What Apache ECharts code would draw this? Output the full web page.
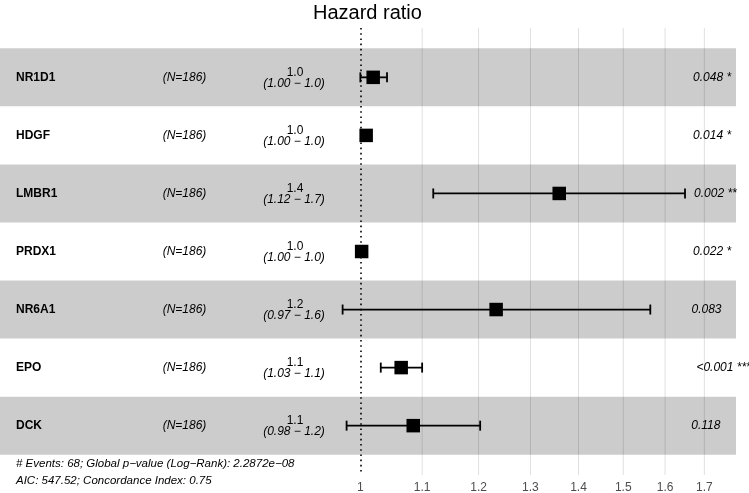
<!DOCTYPE html>
<html>
<head>
<meta charset="utf-8">
<script src="https://cdn.jsdelivr.net/npm/echarts@6/dist/echarts.min.js"></script>
<style>
  html, body { margin: 0; padding: 0; background: #fff; }
  #forest { width: 749px; height: 493px; }
</style>
</head>
<body>
<div id="forest"></div>
<script>
// rows, top to bottom
const genes = ["NR1D1", "HDGF", "LMBR1", "PRDX1", "NR6A1", "EPO", "DCK"];
const nPatients = [186, 186, 186, 186, 186, 186, 186];
const hrLabel = ["1.0", "1.0", "1.4", "1.0", "1.2", "1.1", "1.1"];
const ciLowLabel = ["1.00", "1.00", "1.12", "1.00", "0.97", "1.03", "0.98"];
const ciHighLabel = ["1.0", "1.0", "1.7", "1.0", "1.6", "1.1", "1.2"];
const pLabel = ["0.048 *", "0.014 *", "0.002 **", "0.022 *", "0.083", "<0.001 ***", "0.118"];

// hazard ratio and confidence interval
const hr = [1.020, 1.009, 1.359, 1.002, 1.233, 1.065, 1.085];
const ciLow = [1.000, 1.002, 1.119, 1.000, 0.973, 1.032, 0.979];
const ciHigh = [1.042, 1.016, 1.650, 1.004, 1.564, 1.100, 1.203];

const xTicks = [1, 1.1, 1.2, 1.3, 1.4, 1.5, 1.6, 1.7];

const footer = [
  "# Events: 68; Global p\u2212value (Log\u2212Rank): 2.2872e\u221208",
  "AIC: 547.52; Concordance Index: 0.75"
];

const FONT = '"Liberation Sans", Arial, Helvetica, sans-serif';
const yMin = -0.85, yMax = 6.85;

// measure text like ggplot's hjust = -0.2
const measureCtx = document.createElement("canvas").getContext("2d");
function textWidth(str, font) {
  measureCtx.font = font;
  return measureCtx.measureText(str).width;
}

let chart = echarts.init(document.getElementById("forest"));

let bands = [];
for (let i = 0; i < genes.length; i += 2) {
  bands.push([{ yAxis: i - 0.5 }, { yAxis: i + 0.5 }]);
}

let option = {
  animation: false,
  title: {
    text: "Hazard ratio",
    left: 308,
    top: -2,
    textStyle: { fontFamily: FONT, fontSize: 20, fontWeight: "normal", color: "#000" }
  },
  grid: { left: 0, right: 13, top: 28, bottom: 18 },
  xAxis: {
    type: "log",
    logBase: 10,
    min: 0.5736,
    max: 1.785,
    axisLine: { show: false },
    axisTick: { show: false },
    axisLabel: { show: false },
    splitLine: { show: false }
  },
  yAxis: {
    type: "value",
    inverse: true,
    min: yMin,
    max: yMax,
    axisLine: { show: false },
    axisTick: { show: false },
    axisLabel: { show: false },
    splitLine: { show: false }
  },
  graphic: footer.map(function(t, k) {
    return {
      type: "text",
      x: 16,
      y: 464 + k * 17,
      style: {
        text: t,
        fontFamily: FONT,
        fontSize: 11.5,
        fontStyle: "italic",
        fill: "#000",
        verticalAlign: "middle"
      }
    };
  }),
  series: [
    {
      // grid lines + tick labels
      type: "custom",
      z: 1,
      silent: true,
      clip: false,
      data: xTicks.map(function(v) { return [v, yMax]; }),
      encode: { x: 0, y: 1 },
      renderItem: function(params, api) {
        let v = api.value(0);
        let top = api.coord([v, yMin]);
        let bottom = api.coord([v, yMax]);
        let children = [];
        if (v !== 1) {
          children.push({
            type: "line",
            shape: { x1: top[0], y1: top[1], x2: bottom[0], y2: bottom[1] },
            style: { stroke: "#e0e0e0", lineWidth: 1 }
          });
        }
        children.push({
          type: "text",
          style: {
            text: String(v),
            x: bottom[0],
            y: bottom[1] + 13,
            align: "center",
            verticalAlign: "middle",
            fontFamily: FONT,
            fontSize: 12,
            fill: "#4d4d4d"
          }
        });
        return { type: "group", children: children };
      }
    },
    {
      // shaded rows and the reference line at HR = 1
      type: "line",
      data: [],
      silent: true,
      markArea: {
        silent: true,
        z: 2,
        itemStyle: { color: "rgba(0,0,0,0.2)" },
        data: bands
      },
      markLine: {
        silent: true,
        z: 3,
        symbol: ["none", "none"],
        label: { show: false },
        lineStyle: { color: "#000", width: 1.6, type: [1.6, 3.6] },
        data: [{ xAxis: 1 }]
      }
    },
    {
      // confidence intervals
      type: "custom",
      z: 4,
      silent: true,
      data: genes.map(function(g, i) { return [ciLow[i], ciHigh[i], i]; }),
      encode: { x: [0, 1], y: 2 },
      renderItem: function(params, api) {
        let a = api.coord([api.value(0), api.value(2)]);
        let b = api.coord([api.value(1), api.value(2)]);
        let st = { stroke: "#000", lineWidth: 1.8 };
        return {
          type: "group",
          children: [
            { type: "line", shape: { x1: a[0], y1: a[1], x2: b[0], y2: b[1] }, style: st },
            { type: "line", shape: { x1: a[0], y1: a[1] - 5, x2: a[0], y2: a[1] + 5 }, style: st },
            { type: "line", shape: { x1: b[0], y1: b[1] - 5, x2: b[0], y2: b[1] + 5 }, style: st }
          ]
        };
      }
    },
    {
      // point estimates
      type: "scatter",
      z: 5,
      silent: true,
      symbol: "rect",
      symbolSize: 13.5,
      itemStyle: { color: "#000", opacity: 1 },
      data: genes.map(function(g, i) { return [hr[i], i]; })
    },
    {
      // table columns
      type: "custom",
      z: 5,
      silent: true,
      clip: false,
      data: genes.map(function(g, i) { return [1, i]; }),
      encode: { x: 0, y: 1 },
      renderItem: function(params, api) {
        let i = params.dataIndex;
        let y = api.coord([1, i])[1];
        let base = { fontFamily: FONT, fontSize: 12, fill: "#000", verticalAlign: "middle" };
        let pFont = "italic 12px " + FONT;
        let px = 685.5 + 0.2 * textWidth(pLabel[i], pFont);
        return {
          type: "group",
          children: [
            { type: "text", style: Object.assign({}, base, { text: genes[i], x: 16, y: y, fontWeight: "bold" }) },
            { type: "text", style: Object.assign({}, base, { text: "(N=" + nPatients[i] + ")", x: 184.5, y: y, align: "center", fontStyle: "italic" }) },
            { type: "text", style: Object.assign({}, base, { text: hrLabel[i], x: 295, y: y - 5, align: "center" }) },
            { type: "text", style: Object.assign({}, base, { text: "(" + ciLowLabel[i] + " \u2212 " + ciHighLabel[i] + ")", x: 294, y: y + 6, align: "center", fontStyle: "italic" }) },
            { type: "text", style: Object.assign({}, base, { text: pLabel[i], x: px, y: y, align: "left", fontStyle: "italic" }) }
          ]
        };
      }
    }
  ]
};

chart.setOption(option);
</script>
</body>
</html>
